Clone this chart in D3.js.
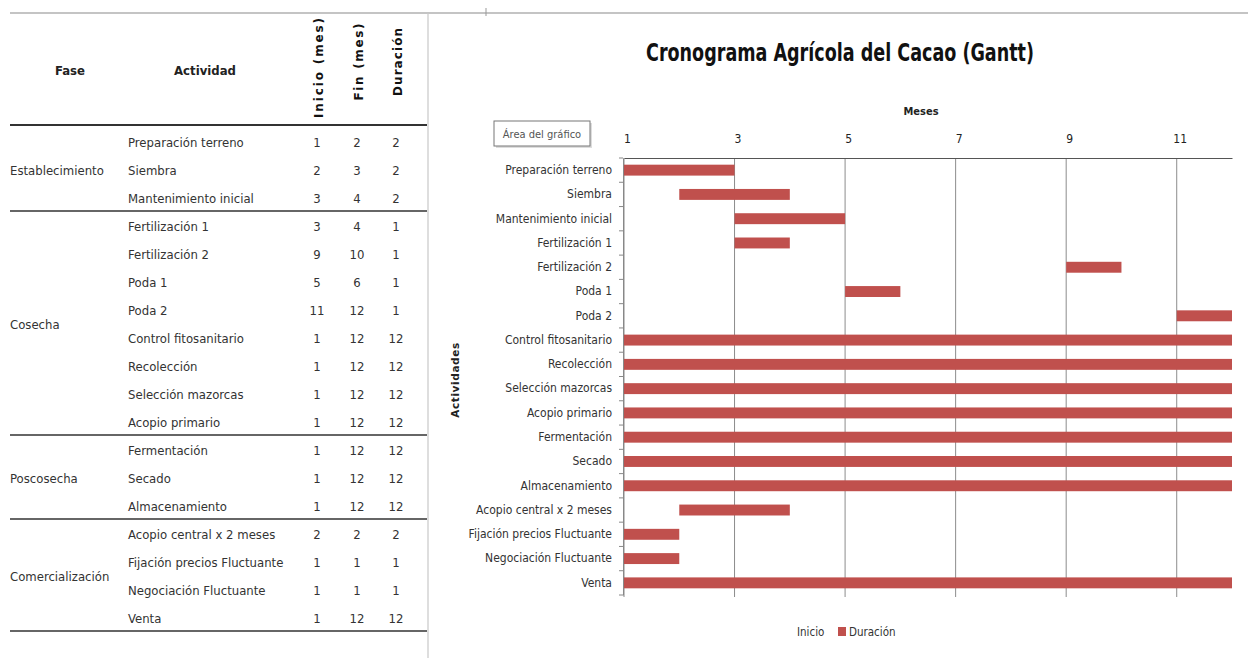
<!DOCTYPE html>
<html>
<head>
<meta charset="utf-8">
<script src="https://cdn.jsdelivr.net/npm/d3@7"></script>
<style>
  body { margin: 0; background: #fff; }
  svg { display: block; }
</style>
</head>
<body>
<div id="chart"></div>
<script>
// datos de la tabla / grafico
var fases = ["Establecimiento", "Cosecha", "Poscosecha", "Comercialización"];
var faseDe = [0, 0, 0, 1, 1, 1, 1, 1, 1, 1, 1, 2, 2, 2, 3, 3, 3, 3];
var actividades = ["Preparación terreno", "Siembra", "Mantenimiento inicial",
    "Fertilización 1", "Fertilización 2", "Poda 1", "Poda 2", "Control fitosanitario",
    "Recolección", "Selección mazorcas", "Acopio primario", "Fermentación", "Secado",
    "Almacenamiento", "Acopio central x 2 meses", "Fijación precios Fluctuante",
    "Negociación Fluctuante", "Venta"];
var inicio   = [1, 2, 3, 3, 9, 5, 11, 1, 1, 1, 1, 1, 1, 1, 2, 1, 1, 1];
var fin      = [2, 3, 4, 4, 10, 6, 12, 12, 12, 12, 12, 12, 12, 12, 2, 1, 1, 12];
var duracion = [2, 2, 2, 1, 1, 1, 1, 12, 12, 12, 12, 12, 12, 12, 2, 1, 1, 12];
var columnas = ["Inicio (mes)", "Fin (mes)", "Duración"];
var meses = [1, 3, 5, 7, 9, 11];
var series = ["Inicio", "Duración"];

var NARROW = '"Liberation Sans Narrow", "Arial Narrow", "DejaVu Sans Condensed", sans-serif';
var rojo = "#c0504d";

var W = 1248, H = 658;
var svg = d3.select("#chart").append("svg")
    .attr("width", W)
    .attr("height", H)
    .style("font-family", NARROW);

// marcos de fondo
svg.append("line").attr("x1", 10).attr("x2", W).attr("y1", 13).attr("y2", 13)
    .attr("stroke", "#8a8a8a").attr("stroke-width", 1.2);
svg.append("line").attr("x1", 428).attr("x2", 428).attr("y1", 13).attr("y2", H)
    .attr("stroke", "#c8c8c8").attr("stroke-width", 1.2);
svg.append("line").attr("x1", 486).attr("x2", 486).attr("y1", 8).attr("y2", 16)
    .attr("stroke", "#999");

// ---------- tabla ----------
var table = svg.append("g");
var rowTop = 128, rowH = 28;
var colX = [317, 357, 396];
var headLen = [100, 77, 68];

table.append("text").attr("x", 70).attr("y", 75).attr("text-anchor", "middle")
    .attr("font-size", 13).attr("font-weight", "bold").attr("fill", "#222").text("Fase");
table.append("text").attr("x", 205).attr("y", 75).attr("text-anchor", "middle")
    .attr("font-size", 13).attr("font-weight", "bold").attr("fill", "#222").text("Actividad");

table.selectAll(".colhead")
    .data(columnas)
    .join("text")
    .attr("class", "colhead")
    .attr("transform", (d, i) => "translate(" + (colX[i] + 6) + "," + (i == 0 ? 68 : 62) + ") rotate(-90)")
    .attr("text-anchor", "middle")
    .attr("font-family", '"DejaVu Sans", sans-serif')
    .attr("font-size", 12)
    .attr("font-weight", "bold")
    .attr("fill", "#111")
    .attr("textLength", (d, i) => headLen[i])
    .attr("lengthAdjust", "spacing")
    .text(d => d);

table.append("line").attr("x1", 10).attr("x2", 427).attr("y1", 125).attr("y2", 125)
    .attr("stroke", "#333").attr("stroke-width", 2);

var rows = table.selectAll(".row")
    .data(actividades)
    .join("g")
    .attr("class", "row")
    .attr("transform", (d, i) => "translate(0," + (rowTop + i * rowH + rowH / 2) + ")");

rows.append("text").attr("x", 128).attr("dy", "0.35em")
    .attr("font-size", 13).attr("fill", "#333").text(d => d);

[inicio, fin, duracion].forEach(function(arr, c) {
    rows.append("text")
        .attr("x", colX[c])
        .attr("dy", "0.35em")
        .attr("text-anchor", "middle")
        .attr("font-size", 13)
        .attr("fill", "#333")
        .text((d, i) => arr[i]);
});

// etiquetas de fase y separadores
fases.forEach(function(f, k) {
    var idx = faseDe.map((v, i) => v == k ? i : -1).filter(i => i >= 0);
    var first = idx[0], last = idx[idx.length - 1];
    var yc = rowTop + (first + last + 1) / 2 * rowH;
    table.append("text").attr("x", 10).attr("y", yc).attr("dy", "0.35em")
        .attr("font-size", 13).attr("fill", "#333").text(f);
    table.append("line").attr("x1", 10).attr("x2", 427)
        .attr("y1", rowTop + (last + 1) * rowH - 1).attr("y2", rowTop + (last + 1) * rowH - 1)
        .attr("stroke", "#333").attr("stroke-width", 1.5);
});

// ---------- grafico gantt ----------
var x = d3.scaleLinear().domain([1, 12]).range([624, 1232]).clamp(true);
var y = d3.scaleBand().domain(actividades).range([158, 595])
    .paddingInner(0.55).paddingOuter(0.275);

svg.append("text").attr("x", 840).attr("y", 61).attr("text-anchor", "middle")
    .attr("font-size", 25).attr("font-weight", "bold").attr("fill", "#111")
    .attr("textLength", 388).attr("lengthAdjust", "spacingAndGlyphs")
    .text("Cronograma Agrícola del Cacao (Gantt)");

svg.append("text").attr("x", 921).attr("y", 115).attr("text-anchor", "middle")
    .attr("font-size", 11).attr("font-weight", "bold").attr("fill", "#222").text("Meses");

// lineas de cuadricula
svg.append("g").selectAll("line")
    .data(meses)
    .join("line")
    .attr("x1", d => x(d)).attr("x2", d => x(d))
    .attr("y1", 158).attr("y2", 597)
    .attr("stroke", "#8c8c8c").attr("stroke-width", 1);

// eje superior
var xAxis = svg.append("g")
    .attr("transform", "translate(0,158)")
    .call(d3.axisTop(x).tickValues(meses).tickSize(0).tickPadding(15).tickSizeOuter(0));
xAxis.select(".domain").attr("stroke", "#555");
xAxis.selectAll("text").attr("font-family", NARROW).attr("font-size", 12).attr("fill", "#222")
    .attr("dx", 3);

// barras (serie Duración, la serie Inicio no tiene relleno)
svg.append("g").selectAll("rect")
    .data(actividades)
    .join("rect")
    .attr("x", (d, i) => x(inicio[i]))
    .attr("y", d => y(d))
    .attr("width", (d, i) => x(inicio[i] + duracion[i]) - x(inicio[i]))
    .attr("height", y.bandwidth())
    .attr("fill", rojo);

// eje vertical
var yAxis = svg.append("g")
    .attr("transform", "translate(623,0)")
    .call(d3.axisLeft(y).tickSize(0).tickPadding(11));
yAxis.select(".domain").attr("stroke", "#888");
yAxis.selectAll("text").attr("font-family", NARROW).attr("font-size", 12).attr("fill", "#333");
svg.append("g").selectAll("line")
    .data(d3.range(actividades.length + 1))
    .join("line")
    .attr("x1", 619).attr("x2", 623)
    .attr("y1", i => 158 + i * y.step()).attr("y2", i => 158 + i * y.step())
    .attr("stroke", "#888");

svg.append("text")
    .attr("transform", "translate(459,380) rotate(-90)")
    .attr("text-anchor", "middle")
    .attr("font-family", '"DejaVu Sans", sans-serif')
    .attr("font-size", 10.5).attr("font-weight", "bold").attr("fill", "#222")
    .attr("letter-spacing", 0.6)
    .text("Actividades");

// recuadro "Área del gráfico"
var tip = svg.append("g").attr("transform", "translate(494,121)");
tip.append("rect").attr("x", 2).attr("y", 2).attr("width", 96).attr("height", 25).attr("fill", "#ddd");
tip.append("rect").attr("width", 96).attr("height", 25).attr("fill", "#fff").attr("stroke", "#777");
tip.append("text").attr("x", 48).attr("y", 13).attr("dy", "0.35em").attr("text-anchor", "middle")
    .attr("font-size", 11).attr("fill", "#555").text("Área del gráfico");

// leyenda
var legX = [797, 838];
var leg = svg.append("g").selectAll("g")
    .data(series)
    .join("g")
    .attr("transform", (d, i) => "translate(" + legX[i] + ",632)");
leg.filter((d, i) => i == 1).append("rect")
    .attr("x", 0).attr("y", -5).attr("width", 8).attr("height", 9).attr("fill", rojo);
leg.append("text")
    .attr("x", (d, i) => i == 1 ? 11 : 0)
    .attr("dy", "0.35em")
    .attr("font-size", 11.5).attr("fill", "#333")
    .text(d => d);
</script>
</body>
</html>
